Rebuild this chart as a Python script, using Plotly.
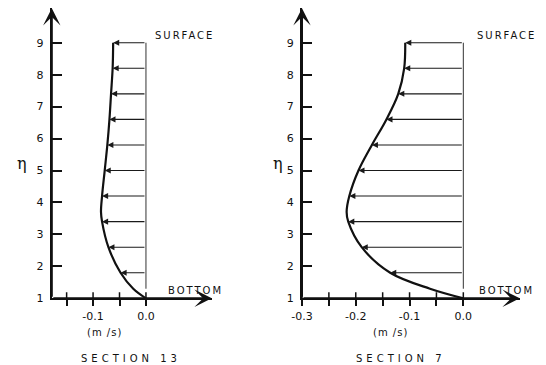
import plotly.graph_objects as go

# Depth levels (eta) at which the profile was sampled
eta = [9.0, 8.2, 7.4, 6.6, 5.8, 5.0, 4.2, 3.7, 3.4, 2.6, 1.8, 1.3, 1.0]

# Along-channel velocity (m/s) at each level
u_section13 = [-0.062, -0.063, -0.066, -0.069, -0.073, -0.078, -0.083,
               -0.085, -0.083, -0.071, -0.048, -0.024, 0.0]
u_section7 = [-0.108, -0.110, -0.121, -0.143, -0.170, -0.195, -0.212,
              -0.217, -0.214, -0.189, -0.136, -0.062, 0.0]

# Levels that get a velocity arrow
arrow_levels = [9.0, 8.2, 7.4, 6.6, 5.8, 5.0, 4.2, 3.4, 2.6, 1.8]

# Axis ticks
eta_ticks = [1, 2, 3, 4, 5, 6, 7, 8, 9]
u_ticks_13 = [-0.15, -0.10, -0.05, 0.0]
u_text_13 = ["", "-0.1", "", "0.0"]
u_ticks_7 = [-0.30, -0.25, -0.20, -0.15, -0.10, -0.05, 0.0]
u_text_7 = ["-0.3", "", "-0.2", "", "-0.1", "", "0.0"]

panels = [
    dict(u=u_section13, xa="x", ya="y", xrange=[-0.178, 0.1245],
         domain=[0.0949, 0.3879], ticks=u_ticks_13, text=u_text_13,
         title="SECTION 13", eta_x=0.040, title_x=0.240, unit_x=0.191,
         surface_x=0.073, bottom_x=0.093),
    dict(u=u_section7, xa="x2", ya="y2", xrange=[-0.30, 0.105],
         domain=[0.5531, 0.9520], ticks=u_ticks_7, text=u_text_7,
         title="SECTION 7", eta_x=0.509, title_x=0.734, unit_x=0.716,
         surface_x=0.081, bottom_x=0.081),
]

Y_RANGE = [1.0, 10.08]
INK = "#111111"
FONT = "DejaVu Sans"


def spaced(s, px):
    return f'<span style="letter-spacing:{px}px">{s}</span>'


def label(x, y, text, xref, yref, size=10, family=FONT):
    return dict(x=x, y=y, xref=xref, yref=yref, text=text,
                xanchor="center", yanchor="middle", showarrow=False,
                font=dict(size=size, color=INK, family=family))


fig = go.Figure()
annotations = []
shapes = []

for i, p in enumerate(panels):
    xa, ya = p["xa"], p["ya"]
    suffix = "" if i == 0 else "2"

    # velocity profile
    fig.add_trace(go.Scatter(
        x=p["u"], y=eta, mode="lines", xaxis=xa, yaxis=ya,
        line=dict(color=INK, width=2.2, shape="spline", smoothing=1.0),
        hoverinfo="skip", showlegend=False))

    # zero-velocity reference line
    shapes.append(dict(type="line", xref=xa, yref=ya, x0=0, x1=0,
                       y0=1.3, y1=max(arrow_levels),
                       line=dict(color="#333333", width=1)))

    # velocity arrows from the zero line to the profile
    lookup = dict(zip(eta, p["u"]))
    for lev in arrow_levels:
        annotations.append(dict(
            x=lookup[lev], y=lev, ax=0, ay=lev, xref=xa, yref=ya,
            axref=xa, ayref=ya, text="", showarrow=True,
            arrowhead=2, arrowsize=1.1, arrowwidth=1.1,
            arrowcolor="#1a1a1a", standoff=0))

    # axis arrows
    x0, x1 = p["xrange"]
    for (hx, hy) in [(x1, Y_RANGE[0]), (x0, Y_RANGE[1])]:
        annotations.append(dict(
            x=hx, y=hy, ax=x0, ay=Y_RANGE[0], xref=xa, yref=ya,
            axref=xa, ayref=ya, text="", showarrow=True, arrowhead=3,
            arrowsize=1.45, arrowwidth=2, arrowcolor=INK, standoff=0))

    # upper halves of the crossing x ticks
    for t in p["ticks"]:
        shapes.append(dict(type="line", xref=xa, yref=ya, x0=t, x1=t,
                           ysizemode="pixel", yanchor=Y_RANGE[0],
                           y0=0, y1=6, line=dict(color=INK, width=1.5)))

    # labels
    annotations.append(label(p["surface_x"], 9.24, spaced("SURFACE", 2),
                             xa, ya))
    annotations.append(label(p["bottom_x"], 1.25, spaced("BOTTOM", 2),
                             xa, ya))
    annotations.append(label(p["unit_x"], 0.090, spaced("(m /s)", 1),
                             "paper", "paper"))
    annotations.append(label(p["title_x"], 0.018, spaced(p["title"], 4),
                             "paper", "paper"))
    annotations.append(label(p["eta_x"], 0.553, "η", "paper", "paper",
                             size=16, family="DejaVu Serif"))

    fig.update_layout(**{
        f"xaxis{suffix}": dict(
            domain=p["domain"], range=p["xrange"], anchor=ya,
            automargin=False,
            tickmode="array", tickvals=p["ticks"], ticktext=p["text"],
            ticks="outside", ticklen=6, tickwidth=1.5, tickcolor=INK,
            showline=True, linecolor=INK, linewidth=2,
            showgrid=False, zeroline=False, fixedrange=True,
            tickfont=dict(size=11, color=INK, family=FONT)),
        f"yaxis{suffix}": dict(
            domain=[0.1827, 0.9775], range=Y_RANGE, anchor=xa,
            automargin=False,
            tickmode="array", tickvals=eta_ticks,
            ticks="inside", ticklen=10, tickwidth=1.5, tickcolor=INK,
            showline=True, linecolor=INK, linewidth=2,
            showgrid=False, zeroline=False, fixedrange=True,
            ticklabelstandoff=4,
            tickfont=dict(size=11, color=INK, family=FONT)),
    })

fig.update_layout(
    template="none",
    width=546, height=365,
    margin=dict(l=0, r=0, t=0, b=0, autoexpand=False),
    paper_bgcolor="white", plot_bgcolor="white",
    font=dict(family=FONT, color=INK),
    annotations=annotations, shapes=shapes,
    showlegend=False,
)

fig.write_html("out.html", config={"displayModeBar": False})
